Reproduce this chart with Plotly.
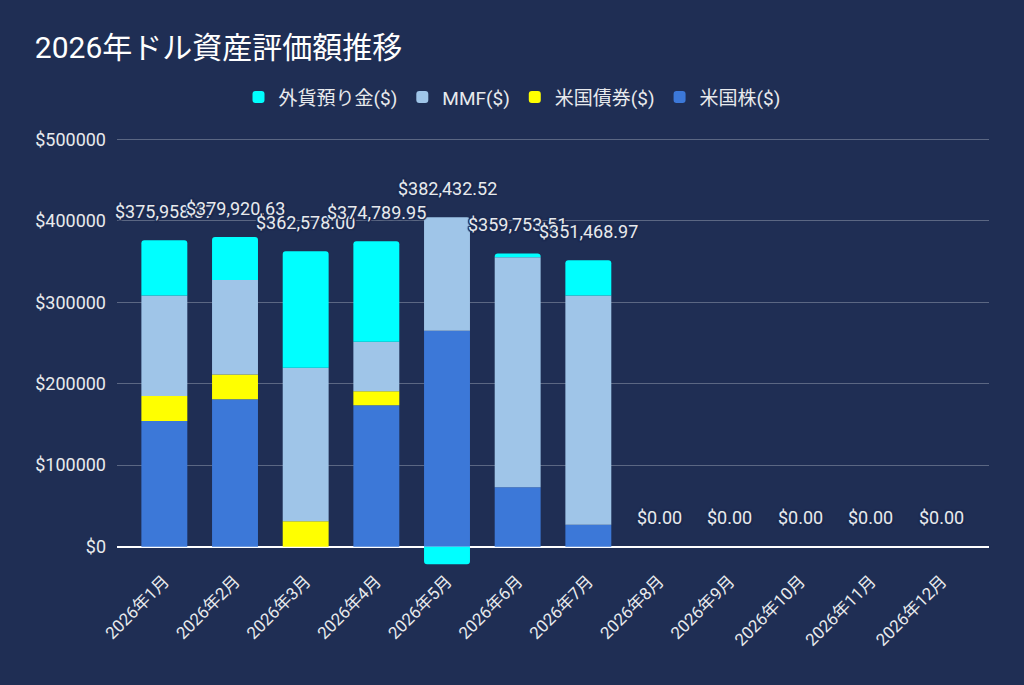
import plotly.graph_objects as go

months = ["2026年1月", "2026年2月", "2026年3月", "2026年4月", "2026年5月", "2026年6月",
          "2026年7月", "2026年8月", "2026年9月", "2026年10月", "2026年11月", "2026年12月"]

us_stock = [154300, 180900, 0, 173600, 264800, 72900, 27000, 0, 0, 0, 0, 0]
us_bond = [30700, 30300, 31100, 17100, 0, 0, 0, 0, 0, 0, 0, 0]
mmf = [123200, 116000, 188300, 60600, 139300, 282100, 281200, 0, 0, 0, 0, 0]
fx_deposit = [67758, 52721, 143178, 123490, -21667, 4754, 43269, 0, 0, 0, 0, 0]
totals = [375958.37, 379920.63, 362578.00, 374789.95, 382432.52, 359753.51,
          351468.97, 0, 0, 0, 0, 0]

BG = "#1f2e54"
TXT = "#e8eaed"
FONT = "Roboto, 'Noto Sans CJK JP', sans-serif"

fig = go.Figure()
# stack from the bottom up, legend shown reversed
fig.add_trace(go.Bar(x=months, y=us_stock, name="米国株($)", marker_color="#3c78d8"))
fig.add_trace(go.Bar(x=months, y=us_bond, name="米国債券($)", marker_color="#ffff00"))
fig.add_trace(go.Bar(x=months, y=mmf, name="MMF($)", marker_color="#9fc5e8"))
fig.add_trace(go.Bar(x=months, y=fx_deposit, name="外貨預り金($)", marker_color="#00ffff"))
fig.update_traces(marker_line_width=0, hoverinfo="skip")

# total labels sit above the positive part of each stack
tops = [sum(max(v, 0) for v in vals) for vals in zip(us_stock, us_bond, mmf, fx_deposit)]
halo = ", ".join(f"{dx}px {dy}px 1px {BG}" for dx in (-1, 0, 1) for dy in (-1, 0, 1))
for m, t, tot in zip(months, tops, totals):
    fig.add_annotation(x=m, y=t, text=f"${tot:,.2f}", showarrow=False, yshift=29,
                       font=dict(size=18, color=TXT, family=FONT, shadow=halo))

fig.update_layout(
    width=1024, height=685,
    barmode="relative", bargap=0.35, barcornerradius=3,
    paper_bgcolor=BG, plot_bgcolor=BG,
    font=dict(family=FONT, color=TXT, size=16),
    margin=dict(l=117, r=35, t=138, b=118),
    title=dict(text="2026年ドル資産評価額推移", x=0.034, xanchor="left", xref="container",
               y=0.931, yanchor="middle", yref="container",
               font=dict(size=30, color="#ffffff", family=FONT)),
    legend=dict(orientation="h", traceorder="reversed", x=0.5, xanchor="center",
                xref="container", y=0.858, yanchor="middle", yref="container",
                font=dict(size=19, color=TXT), itemclick=False),
    showlegend=True,
)
fig.update_xaxes(range=[-0.67, 11.67], tickangle=-45, showgrid=False, ticks="",
                 tickfont=dict(size=17, color=TXT))
fig.update_yaxes(range=[-25000, 501500], tick0=0, dtick=100000, tickprefix="$",
                 tickformat="d", gridcolor="#5b6783", gridwidth=1,
                 zeroline=True, zerolinecolor="#ffffff", zerolinewidth=2,
                 ticks="", ticklabelstandoff=10, tickfont=dict(size=18, color=TXT))

fig.write_html("out.html", config={"displayModeBar": False},
               post_script="document.body.style.margin='0';document.body.style.overflow='hidden';")
